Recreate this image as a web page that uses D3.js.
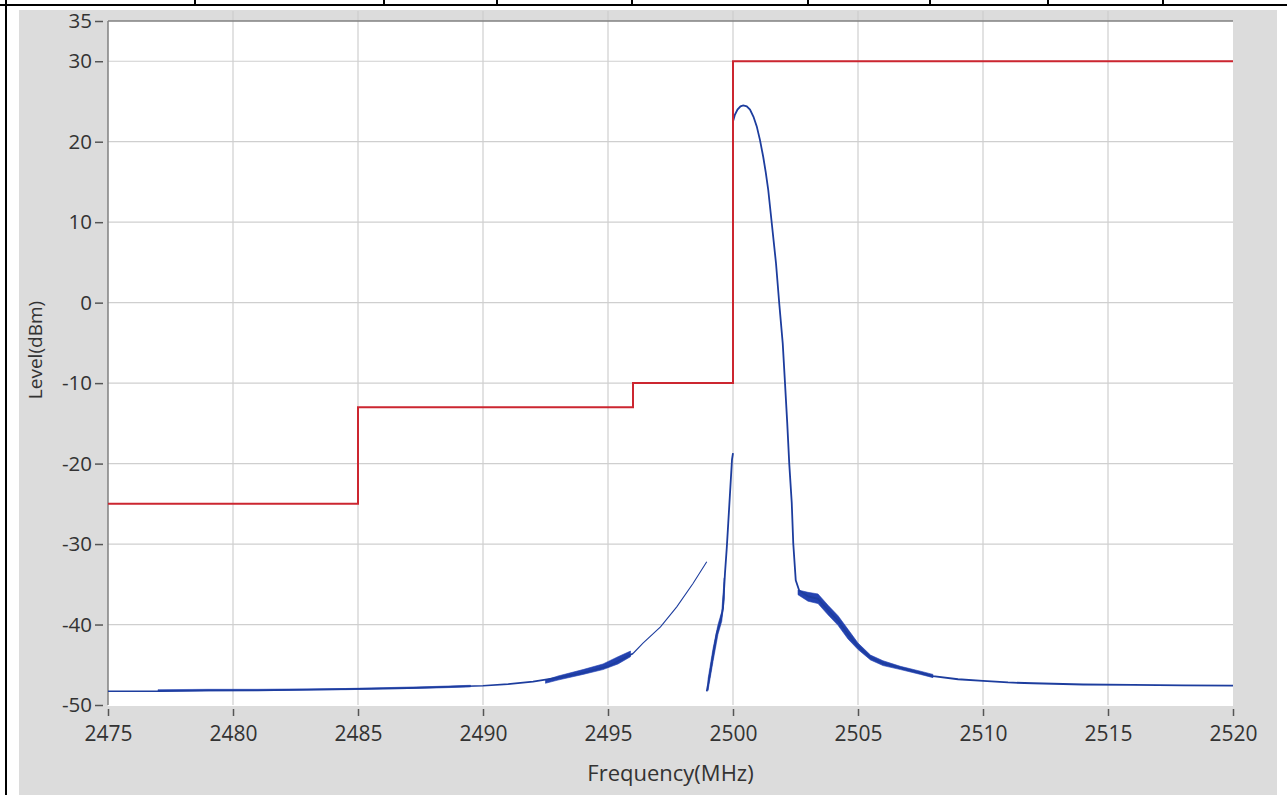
<!DOCTYPE html>
<html><head><meta charset="utf-8">
<script src="https://cdn.jsdelivr.net/npm/d3@7/dist/d3.min.js"></script>
<style>html,body{margin:0;padding:0;background:#fff;overflow:hidden}</style>
</head><body>
<svg id="c" width="1287" height="795"></svg>
<script>
// ---------- data ----------
const xTicks = [2475,2480,2485,2490,2495,2500,2505,2510,2515,2520];
const yTicks = [35,30,20,10,0,-10,-20,-30,-40,-50];

// limit mask (red)
const limitFreq  = [2475, 2485, 2496, 2500, 2520];
const limitLevel = [-25, -13, -10, 30, 30];

// trace: floor on the low side
const floorFreq  = [2475,2477,2479,2481,2483,2485,2487,2489,2490,2491,2492,2493,2494,2494.5,2495,2495.5,2496];
const floorLevel = [-48.3,-48.3,-48.2,-48.2,-48.1,-48.0,-47.9,-47.7,-47.6,-47.4,-47.1,-46.6,-46.0,-45.6,-45.2,-44.4,-43.6];
// thin continuation
const thinFreq  = [2496,2496.4,2497.1,2497.75,2498.4,2498.95];
const thinLevel = [-43.6,-42.3,-40.3,-37.8,-34.9,-32.2];
// steep rising segment
const riseFreq  = [2498.95,2499.08,2499.21,2499.35,2499.48,2499.6,2499.68,2499.75,2499.81,2499.88,2499.96,2500.0];
const riseLevel = [-48.3,-46.1,-43.6,-41.1,-39.8,-38.0,-33.6,-30.5,-27.4,-23.7,-19.5,-18.7];
// main lobe and upper side
const peakFreq  = [2500.0,2500.07,2500.18,2500.3,2500.41,2500.55,2500.68,2500.82,2500.95,2501.08,2501.21,2501.31,2501.41,2501.55,2501.72,2501.85,2501.99,2502.08,2502.17,2502.25,2502.35,2502.41,2502.51,2502.65,2503.0,2503.4,2503.8,2504.2,2504.6,2505.0,2505.5,2506.0,2506.7,2507.5,2508,2509,2510,2511,2512,2514,2516,2518,2520];
const peakLevel = [22.5,23.3,24.0,24.4,24.5,24.4,24.0,23.1,21.9,20.2,18.1,16.2,14.0,9.9,4.9,-0.1,-5.1,-10.0,-15.0,-20.0,-24.9,-29.9,-34.5,-35.8,-36.5,-36.8,-38.2,-39.5,-41.2,-42.7,-44.1,-44.8,-45.4,-46.0,-46.4,-46.8,-47.0,-47.2,-47.3,-47.45,-47.5,-47.55,-47.6];

// noise envelopes (low / high edge)
const bandLFreq = [2492.5,2493,2494,2494.8,2495.4,2495.9];
const bandLLo   = [-47.3,-46.9,-46.2,-45.6,-44.9,-44.0];
const bandLHi   = [-46.9,-46.4,-45.6,-44.9,-44.0,-43.3];
const bandRFreq = [2502.6,2503.0,2503.4,2503.8,2504.2,2504.6,2505.0,2505.5,2506.0,2506.7,2507.5,2508.0];
const bandRLo   = [-36.3,-37.1,-37.4,-38.8,-40.1,-41.8,-43.1,-44.4,-45.1,-45.6,-46.2,-46.6];
const bandRHi   = [-35.7,-36.0,-36.2,-37.6,-38.9,-40.6,-42.3,-43.8,-44.5,-45.2,-45.8,-46.2];
const bandUFreq = [2499.0,2499.2,2499.4,2499.55,2499.65];
const bandULo   = [-48.2,-44.6,-41.2,-39.6,-36.8];
const bandUHi   = [-46.8,-43.0,-40.0,-38.4,-34.2];
const bandFFreq = [2477,2479,2481,2484.5,2486,2488,2489.5];
const bandFLo   = [-48.3,-48.25,-48.2,-48.1,-48.0,-47.9,-47.75];
const bandFHi   = [-48.1,-48.05,-48.05,-47.95,-47.85,-47.7,-47.55];

// ---------- layout ----------
const svg = d3.select('#c');
const L = 108, R = 1233, T = 21, B = 705;
const x = d3.scaleLinear().domain([2475,2520]).range([L,R]);
const y = d3.scaleLinear().domain([-50,35]).range([B,T]);
const FONT = "'Open Sans', 'Noto Sans', sans-serif";

// table lines at top
svg.append('line').attr('x1',0).attr('x2',1287).attr('y1',5).attr('y2',5).attr('stroke','#000').attr('stroke-width',2);
[195,384,497,632,808,930,1048,1163].forEach(v=>{
  svg.append('line').attr('x1',v).attr('x2',v).attr('y1',0).attr('y2',5).attr('stroke','#000').attr('stroke-width',2);
});
svg.append('line').attr('x1',6).attr('x2',6).attr('y1',0).attr('y2',795).attr('stroke','#000').attr('stroke-width',2);

// gray panel
svg.append('rect').attr('x',19).attr('y',10).attr('width',1258).attr('height',785).attr('fill','#dcdcdc');
// plot background
svg.append('rect').attr('x',L).attr('y',T).attr('width',R-L).attr('height',B-T+1).attr('fill','#fff');

// faint marks above plot
const g0 = svg.append('g');
xTicks.slice(1,-1).forEach(v=>{
  g0.append('line').attr('x1',x(v)).attr('x2',x(v)).attr('y1',11).attr('y2',T).attr('stroke','#cacaca').attr('stroke-width',1);
});

// grid
const grid = svg.append('g');
grid.selectAll('.gx').data(xTicks.slice(1,-1)).enter().append('line')
  .attr('x1',d=>x(d)).attr('x2',d=>x(d)).attr('y1',T).attr('y2',B)
  .attr('stroke','#cfcfcf').attr('stroke-width',1.2);
grid.selectAll('.gy').data(yTicks.slice(1,-1)).enter().append('line')
  .attr('x1',L).attr('x2',R).attr('y1',d=>y(d)).attr('y2',d=>y(d))
  .attr('stroke','#cfcfcf').attr('stroke-width',1.2);

// plot frame (top and left)
svg.append('line').attr('x1',L).attr('x2',R).attr('y1',T).attr('y2',T).attr('stroke','#808080').attr('stroke-width',1.5);
svg.append('line').attr('x1',L).attr('x2',L).attr('y1',T).attr('y2',B).attr('stroke','#808080').attr('stroke-width',1.5);

const fmt = d => String(d);
// y axis
const yAxis = d3.axisLeft(y).tickValues(yTicks).tickSize(8).tickPadding(3).tickFormat(fmt);
const gy = svg.append('g').attr('transform',`translate(${L-5},0)`).call(yAxis);
gy.select('.domain').remove();
gy.selectAll('line').attr('stroke','#555').attr('stroke-width',1.5);
gy.selectAll('text').attr('font-family',FONT).attr('font-size',20.5).attr('fill','#333');

// x axis
const xAxis = d3.axisBottom(x).tickValues(xTicks).tickSize(7).tickPadding(10).tickFormat(fmt);
const gx = svg.append('g').attr('transform',`translate(0,${B+4})`).call(xAxis);
gx.select('.domain').remove();
gx.selectAll('line').attr('stroke','#555').attr('stroke-width',1.5);
gx.selectAll('text').attr('font-family',FONT).attr('font-size',21).attr('fill','#333');

// axis titles
svg.append('text').attr('x',(L+R)/2).attr('y',781).attr('text-anchor','middle')
  .attr('font-family',FONT).attr('font-size',22).attr('fill','#333').text('Frequency(MHz)');
svg.append('text').attr('transform','translate(42,350) rotate(-90)').attr('text-anchor','middle')
  .attr('font-family',FONT).attr('font-size',19).attr('fill','#333').text('Level(dBm)');

// ---------- series ----------
const BLUE = '#1d3d9e';
const plot = svg.append('g');
const line = d3.line().x(d=>x(d[0])).y(d=>y(d[1]));
const area = d3.area().x(d=>x(d[0])).y0(d=>y(d[1])).y1(d=>y(d[2]));
const zip2 = (a,b)=>a.map((v,i)=>[v,b[i]]);
const zip3 = (a,b,c)=>a.map((v,i)=>[v,b[i],c[i]]);

[[bandFFreq,bandFLo,bandFHi],[bandLFreq,bandLLo,bandLHi],[bandRFreq,bandRLo,bandRHi],[bandUFreq,bandULo,bandUHi]].forEach(b=>{
  plot.append('path').datum(zip3(...b)).attr('d',area).attr('fill','#2342b0').attr('stroke','#2342b0').attr('stroke-width',0.6);
});
plot.append('path').datum(zip2(floorFreq,floorLevel)).attr('d',line).attr('fill','none').attr('stroke',BLUE).attr('stroke-width',1.6);
plot.append('path').datum(zip2(thinFreq,thinLevel)).attr('d',line).attr('fill','none').attr('stroke',BLUE).attr('stroke-width',1.1);
plot.append('path').datum(zip2(riseFreq,riseLevel)).attr('d',line).attr('fill','none').attr('stroke',BLUE).attr('stroke-width',1.8);
plot.append('path').datum(zip2(peakFreq,peakLevel)).attr('d',line).attr('fill','none').attr('stroke',BLUE).attr('stroke-width',1.8);

// limit line (red)
const stepLine = d3.line().curve(d3.curveStepAfter).x(d=>x(d[0])).y(d=>y(d[1]));
plot.append('path').datum(zip2(limitFreq,limitLevel)).attr('d',stepLine)
  .attr('fill','none').attr('stroke','#cc2630').attr('stroke-width',2);
</script>
</body></html>
